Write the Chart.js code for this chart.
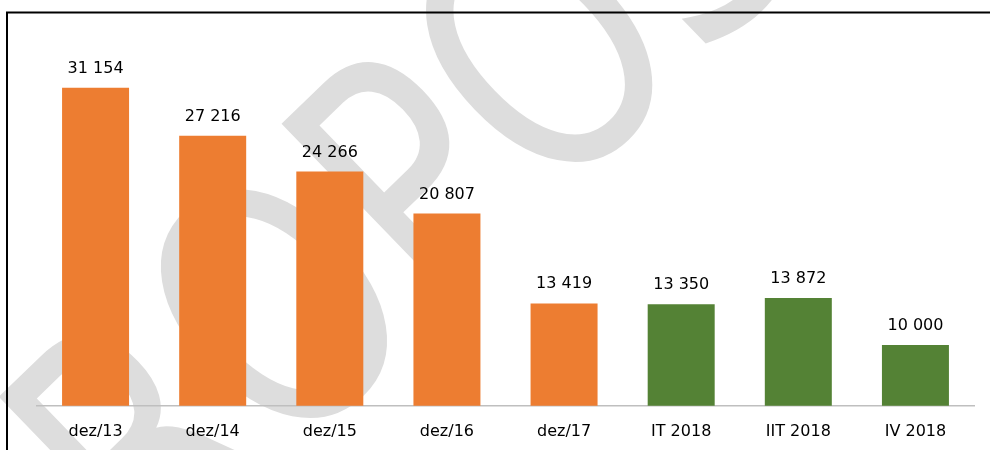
<!DOCTYPE html>
<html>
<head>
<meta charset="utf-8">
<script src="https://cdn.jsdelivr.net/npm/chart.js@4.4.1/dist/chart.umd.min.js"></script>
<style>
  html, body { margin: 0; padding: 0; background: #fff; overflow: hidden; height: 450px; }
  #chart { display: block; }
</style>
</head>
<body>
<canvas id="chart" width="990" height="468"></canvas>
<script>
const categories = ["dez/13", "dez/14", "dez/15", "dez/16", "dez/17", "IT 2018", "IIT 2018", "IV 2018"];
const values = [31154, 27216, 24266, 20807, 13419, 13350, 13872, 10000];
const annualCount = 5; // first bars are year-end values, the rest are 2018 quarters

const ORANGE = "#ed7d31";
const GREEN = "#548235";
const barColors = values.map((v, i) => (i < annualCount ? ORANGE : GREEN));

function formatNumber(n) {
  return String(n).replace(/\B(?=(\d{3})+(?!\d))/g, " ");
}

// white page + "PROPOSTA" watermark behind everything
const background = {
  id: "background",
  beforeDraw(chart) {
    const ctx = chart.ctx;
    ctx.save();
    ctx.fillStyle = "#fff";
    ctx.fillRect(0, 0, chart.width, chart.height);
    ctx.translate(484, 150);
    ctx.rotate((-44 * Math.PI) / 180);
    ctx.scale(0.78, 1);
    ctx.font = "340px 'DejaVu Sans'";
    ctx.fillStyle = "#dddddd";
    ctx.textAlign = "center";
    ctx.textBaseline = "middle";
    ctx.fillText("PROPOSTA", 0, 0);
    ctx.restore();
  },
  afterDraw(chart) {
    const ctx = chart.ctx;
    ctx.save();
    ctx.strokeStyle = "#000";
    ctx.lineWidth = 2;
    ctx.beginPath();
    ctx.moveTo(7, 468);
    ctx.lineTo(7, 12.5);
    ctx.lineTo(990, 12.5);
    ctx.stroke();
    ctx.restore();
  },
};

const valueLabels = {
  id: "valueLabels",
  afterDatasetsDraw(chart) {
    const ctx = chart.ctx;
    const meta = chart.getDatasetMeta(0);
    ctx.save();
    ctx.font = "16px 'DejaVu Sans'";
    ctx.fillStyle = "#000";
    ctx.textAlign = "center";
    ctx.textBaseline = "alphabetic";
    meta.data.forEach((bar, i) => {
      ctx.fillText(formatNumber(values[i]), bar.x, bar.y - 15);
    });
    ctx.restore();
  },
};

new Chart(document.getElementById("chart"), {
  type: "bar",
  data: {
    labels: categories,
    datasets: [
      {
        data: values,
        backgroundColor: barColors,
        borderWidth: 0,
        categoryPercentage: 1,
        barPercentage: 0.572,
      },
    ],
  },
  options: {
    responsive: false,
    animation: false,
    layout: {
      padding: { left: 37, right: 16, top: 41, bottom: 11 },
    },
    plugins: {
      legend: { display: false },
      tooltip: { enabled: false },
    },
    scales: {
      x: {
        grid: { display: false, drawTicks: false },
        border: { display: true, color: "#bfbfbf", width: 1.5 },
        ticks: {
          color: "#000",
          padding: 16,
          font: { family: "'DejaVu Sans'", size: 16 },
        },
      },
      y: {
        display: false,
        min: 5000,
        max: 35000,
      },
    },
  },
  plugins: [background, valueLabels],
});
</script>
</body>
</html>
